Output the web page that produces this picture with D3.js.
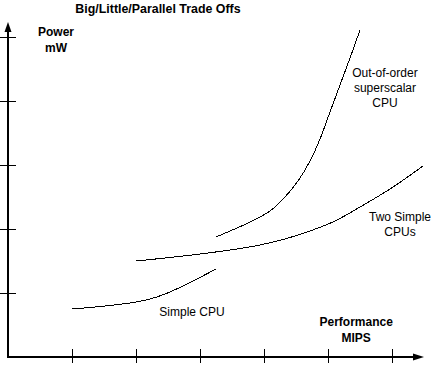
<!DOCTYPE html>
<html>
<head>
<meta charset="utf-8">
<script src="https://cdn.jsdelivr.net/npm/d3@7"></script>
<style>
  body { margin: 0; background: #fff; }
  text { font-family: "Liberation Sans", Arial, sans-serif; fill: #000; }
</style>
</head>
<body>
<script>
// Data (x in MIPS units, y in mW units)
var xTicks = [1, 2, 3, 4, 5, 6];
var yTicks = [1, 2, 3, 4, 5];

var simpleX = [1.0, 1.4375, 1.906, 2.219, 2.453, 2.766, 3.25];
var simpleY = [0.75, 0.789, 0.844, 0.906, 0.984, 1.125, 1.375];

var twoX = [2.0, 2.531, 3.0, 3.578, 3.9375, 4.328, 4.719, 5.109, 5.5, 5.969, 6.484];
var twoY = [1.5, 1.555, 1.609, 1.6875, 1.75, 1.844, 1.969, 2.125, 2.344, 2.625, 2.984];

var oooX = [3.25, 3.781, 4.094, 4.328, 4.531, 4.719, 4.875, 5.031, 5.1875, 5.344, 5.5];
var oooY = [1.875, 2.109, 2.281, 2.5, 2.75, 3.0625, 3.406, 3.828, 4.25, 4.672, 5.109];

// Dimensions
var width = 434;
var height = 366;

var x = d3.scaleLinear().domain([0, 6.5]).range([8, 424]);
var y = d3.scaleLinear().domain([0, 5.25]).range([357, 21]);

var svg = d3
  .select("body")
  .append("svg")
  .attr("width", width)
  .attr("height", height);

// Title
svg.append("text")
  .attr("x", 158)
  .attr("y", 13)
  .attr("text-anchor", "middle")
  .style("font-size", "12.4px")
  .style("font-weight", "bold")
  .text("Big/Little/Parallel Trade Offs");

// Tick marks (crossing the axes)
svg.append("g")
  .attr("transform", "translate(0," + (y(0) - 8) + ")")
  .call(d3.axisBottom(x).tickValues(xTicks).tickSize(14).tickFormat(""))
  .call(function (g) { g.select(".domain").remove(); });

svg.append("g")
  .call(d3.axisRight(y).tickValues(yTicks).tickSize(16).tickFormat(""))
  .call(function (g) { g.select(".domain").remove(); });

// Axis lines with arrow heads
var axes = svg.append("g");
axes.append("line")
  .attr("x1", x(0) - 1).attr("x2", x(6.5) - 8)
  .attr("y1", y(0)).attr("y2", y(0))
  .attr("stroke", "#000").attr("stroke-width", 2);
axes.append("path")
  .attr("d", "M" + x(6.5) + "," + y(0) + "l-11,-3.5v7z")
  .attr("fill", "#000");

axes.append("line")
  .attr("x1", x(0)).attr("x2", x(0))
  .attr("y1", y(0) + 1).attr("y2", y(5.25) + 8)
  .attr("stroke", "#000").attr("stroke-width", 2);
axes.append("path")
  .attr("d", "M" + x(0) + "," + (y(5.25) + 1) + "l-3.5,10h7z")
  .attr("fill", "#000");

// Curves
var line = d3.line()
  .x(function (d) { return x(d[0]); })
  .y(function (d) { return y(d[1]); })
  .curve(d3.curveCatmullRom);

var series = [d3.zip(simpleX, simpleY), d3.zip(twoX, twoY), d3.zip(oooX, oooY)];

svg.selectAll(".curve")
  .data(series)
  .enter()
  .append("path")
  .attr("class", "curve")
  .attr("d", line)
  .attr("fill", "none")
  .attr("stroke", "#000")
  .attr("stroke-width", 1)
  .attr("shape-rendering", "crispEdges");

// Labels
function label(lines, cx, by, bold, gap) {
  var t = svg.append("text")
    .attr("text-anchor", "middle")
    .style("font-size", "12px")
    .style("font-weight", bold ? "bold" : "normal");
  lines.forEach(function (s, i) {
    t.append("tspan")
      .attr("x", cx)
      .attr("y", by + i * gap)
      .text(s);
  });
}

label(["Power", "mW"], x(0.75), 36, true, 16);
label(["Performance", "MIPS"], x(5.44), 326, true, 16);
label(["Simple CPU"], x(2.875), 316, false, 15);
label(["Out-of-order", "superscalar", "CPU"], x(5.89), 77, false, 15);
label(["Two Simple", "CPUs"], x(6.125), 221, false, 15);
</script>
</body>
</html>
